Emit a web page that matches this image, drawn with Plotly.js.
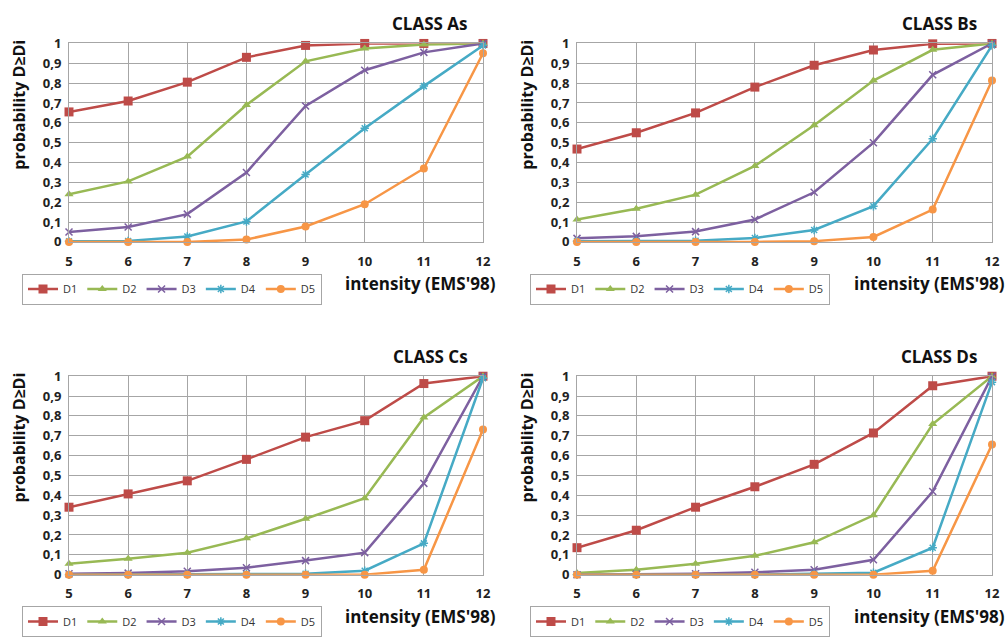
<!DOCTYPE html>
<html>
<head>
<meta charset="utf-8">
<script src="https://cdn.plot.ly/plotly-3.0.1.min.js"></script>
<style>html,body{margin:0;padding:0;background:#fff;}#chart{width:1007px;height:637px;}</style>
</head>
<body>
<div id="chart"></div>
<script>
const intensity = [5, 6, 7, 8, 9, 10, 11, 12];
const seriesNames = ['D1', 'D2', 'D3', 'D4', 'D5'];
const classTitles = ['CLASS As', 'CLASS Bs', 'CLASS Cs', 'CLASS Ds'];

const As_D1 = [0.655, 0.71, 0.805, 0.93, 0.99, 1.0, 1.0, 1.0];
const As_D2 = [0.24, 0.305, 0.43, 0.69, 0.91, 0.975, 0.995, 1.0];
const As_D3 = [0.05, 0.075, 0.14, 0.35, 0.685, 0.865, 0.955, 1.0];
const As_D4 = [0.003, 0.005, 0.027, 0.103, 0.34, 0.573, 0.785, 0.99];
const As_D5 = [0.0, 0.0, 0.0, 0.012, 0.078, 0.19, 0.37, 0.95];

const Bs_D1 = [0.468, 0.55, 0.65, 0.78, 0.89, 0.967, 0.998, 1.0];
const Bs_D2 = [0.113, 0.167, 0.238, 0.383, 0.588, 0.813, 0.968, 1.0];
const Bs_D3 = [0.018, 0.028, 0.052, 0.113, 0.25, 0.5, 0.842, 1.0];
const Bs_D4 = [0.004, 0.005, 0.006, 0.02, 0.06, 0.18, 0.52, 0.99];
const Bs_D5 = [0.0, 0.0, 0.0, 0.0, 0.004, 0.025, 0.163, 0.813];

const Cs_D1 = [0.34, 0.407, 0.473, 0.581, 0.693, 0.776, 0.963, 1.0];
const Cs_D2 = [0.055, 0.08, 0.111, 0.183, 0.282, 0.385, 0.792, 1.0];
const Cs_D3 = [0.005, 0.008, 0.017, 0.035, 0.071, 0.111, 0.46, 1.0];
const Cs_D4 = [0.0, 0.0, 0.001, 0.003, 0.005, 0.02, 0.158, 0.99];
const Cs_D5 = [0.0, 0.0, 0.0, 0.0, 0.0, 0.0, 0.025, 0.731];

const Ds_D1 = [0.136, 0.224, 0.34, 0.443, 0.556, 0.714, 0.952, 1.0];
const Ds_D2 = [0.008, 0.025, 0.055, 0.095, 0.163, 0.299, 0.759, 1.0];
const Ds_D3 = [0.0, 0.003, 0.005, 0.012, 0.025, 0.075, 0.419, 1.0];
const Ds_D4 = [0.0, 0.0, 0.0, 0.0, 0.005, 0.01, 0.136, 0.97];
const Ds_D5 = [0.0, 0.0, 0.0, 0.0, 0.0, 0.0, 0.02, 0.656];

const panelsData = [
  [As_D1, As_D2, As_D3, As_D4, As_D5],
  [Bs_D1, Bs_D2, Bs_D3, Bs_D4, Bs_D5],
  [Cs_D1, Cs_D2, Cs_D3, Cs_D4, Cs_D5],
  [Ds_D1, Ds_D2, Ds_D3, Ds_D4, Ds_D5]
];

const colors = ['#be4b48', '#98b954', '#7d60a0', '#46aac5', '#f79646'];
const symbols = ['square', 'triangle-up', 'x-thin-open', 'asterisk-open', 'circle'];
const msizes = [9, 8, 7, 7, 8];

const W = 1007, H = 637;
const FONT = 'Open Sans, Noto Sans, sans-serif';
// pixel boxes of plot areas: [x0, x1, yTop, yBottom]
const boxes = [[69, 483, 44, 245], [577, 992, 44, 245], [69, 483, 381, 582], [577, 992, 381, 582]];

const traces = [];
const layout = {
  width: W, height: H,
  margin: {l: 0, r: 0, t: 0, b: 0},
  paper_bgcolor: '#ffffff', plot_bgcolor: '#ffffff',
  separators: ',.',
  font: {family: FONT, size: 12, color: '#222'},
  annotations: [],
  showlegend: true
};

boxes.forEach((b, p) => {
  const ax = p === 0 ? '' : String(p + 1);
  const legendId = p === 0 ? 'legend' : 'legend' + (p + 1);
  panelsData[p].forEach((vals, i) => {
    traces.push({
      x: intensity, y: vals,
      type: 'scatter', mode: 'lines+markers',
      name: seriesNames[i],
      xaxis: 'x' + ax, yaxis: 'y' + ax,
      legend: legendId,
      cliponaxis: false,
      line: {color: colors[i], width: 2.5},
      marker: {symbol: symbols[i], size: msizes[i], color: colors[i],
               line: {color: colors[i], width: (i === 2 || i === 3) ? 1.5 : 0}}
    });
  });
  const axisCommon = {
    showgrid: true, gridcolor: '#a6a6a6', gridwidth: 1,
    showline: true, linecolor: '#a6a6a6', linewidth: 1, mirror: true,
    zeroline: false, ticks: '', fixedrange: true,
    tickfont: {family: FONT, size: 13, color: '#222', weight: 'bold'}
  };
  layout['xaxis' + ax] = Object.assign({}, axisCommon, {
    domain: [b[0] / W, b[1] / W], range: [5, 12], dtick: 1, tick0: 5,
    anchor: 'y' + ax, ticklabelstandoff: 7
  });
  layout['yaxis' + ax] = Object.assign({}, axisCommon, {
    domain: [1 - b[3] / H, 1 - b[2] / H], range: [0, 1], dtick: 0.1, tick0: 0,
    anchor: 'x' + ax, ticklabelstandoff: 4
  });
  // legend
  layout[legendId] = {
    orientation: 'h', xref: 'paper', yref: 'paper',
    x: (b[0] - 47) / W, y: 1 - (b[3] + 32) / H,
    xanchor: 'left', yanchor: 'top',
    bordercolor: '#a6a6a6', borderwidth: 1, bgcolor: '#ffffff',
    font: {family: FONT, size: 11, color: '#333'},
    itemwidth: 30, tracegroupgap: 0
  };
  // class title
  layout.annotations.push({
    text: classTitles[p], xref: 'paper', yref: 'paper',
    x: (b[1] - 53) / W, y: 1 - (b[2] - 20) / H, xanchor: 'center', yanchor: 'middle',
    showarrow: false, font: {family: FONT, size: 17, color: '#111', weight: 'bold'}
  });
  // x-axis title
  layout.annotations.push({
    text: "intensity (EMS'98)", xref: 'paper', yref: 'paper',
    x: (b[1] + 15) / W, y: 1 - (b[3] + 42) / H, xanchor: 'right', yanchor: 'middle',
    showarrow: false, font: {family: FONT, size: 17, color: '#111', weight: 'bold'}
  });
  // y-axis title
  layout.annotations.push({
    text: 'probability D≥Di', xref: 'paper', yref: 'paper',
    x: (b[0] - 50) / W, y: 1 - (b[2] + 62) / H, xanchor: 'center', yanchor: 'middle',
    textangle: -90, showarrow: false,
    font: {family: FONT, size: 16, color: '#111', weight: 'bold'}
  });
});

Plotly.newPlot('chart', traces, layout, {displayModeBar: false, staticPlot: true});
</script>
</body>
</html>
